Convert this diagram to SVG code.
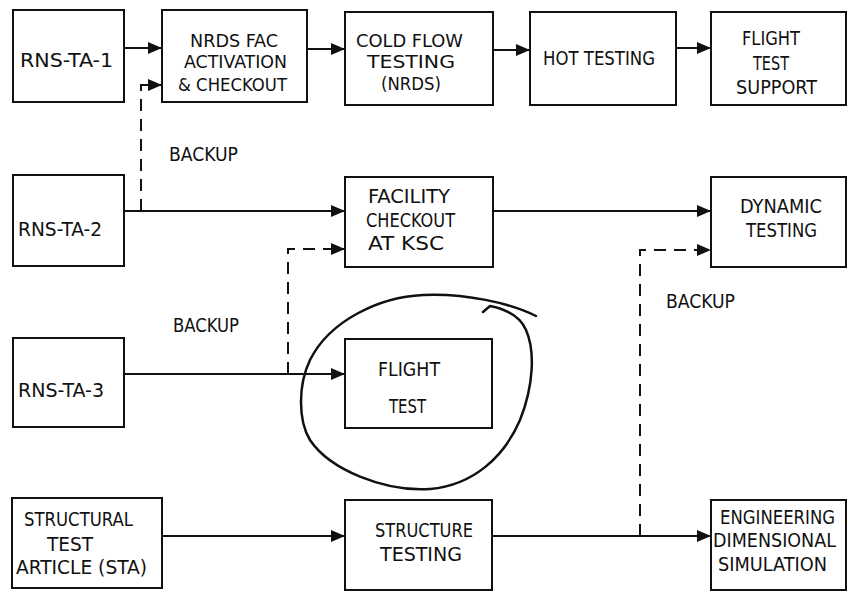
<svg xmlns="http://www.w3.org/2000/svg" width="848" height="592" viewBox="0 0 848 592">
<style>
.box{fill:#fff;stroke:#111;stroke-width:2}
.t{font-family:"DejaVu Sans Condensed","Liberation Sans Narrow","Liberation Sans",sans-serif;font-stretch:condensed;font-size:19px;fill:#111}
.s{font-size:17px}
.ln{fill:none;stroke:#111;stroke-width:2}
.dash{fill:none;stroke:#111;stroke-width:2;stroke-dasharray:12 8}
.circ{fill:none;stroke:#111;stroke-width:2.5;stroke-linecap:round;stroke-linejoin:round}
</style>
<defs>
<marker id="ah" viewBox="0 0 14 12" refX="14" refY="6" markerWidth="14" markerHeight="12" markerUnits="userSpaceOnUse" orient="auto">
<path d="M0,0 L14,6 L0,12 Z" fill="#111"/>
</marker>
</defs>
<rect width="848" height="592" fill="#fff"/>
<g id="connectors">
<line class="ln" x1="124" y1="48" x2="162" y2="48" marker-end="url(#ah)"/>
<line class="ln" x1="307" y1="49" x2="345" y2="49" marker-end="url(#ah)"/>
<line class="ln" x1="493" y1="50" x2="530" y2="50" marker-end="url(#ah)"/>
<line class="ln" x1="676" y1="48" x2="711" y2="48" marker-end="url(#ah)"/>
<line class="ln" x1="124" y1="211" x2="345" y2="211" marker-end="url(#ah)"/>
<line class="ln" x1="493" y1="211" x2="711" y2="211" marker-end="url(#ah)"/>
<line class="ln" x1="124" y1="374" x2="345" y2="374" marker-end="url(#ah)"/>
<line class="ln" x1="162" y1="536" x2="345" y2="536" marker-end="url(#ah)"/>
<line class="ln" x1="492" y1="536" x2="711" y2="536" marker-end="url(#ah)"/>
<path class="dash" d="M141,211 L141,85"/>
<path class="ln" d="M141,86 L141,85 L162,85" marker-end="url(#ah)"/>
<path class="dash" d="M288,374 L288,249 L345,249" marker-end="url(#ah)"/>
<path class="dash" d="M640,536 L640,250 L711,250" marker-end="url(#ah)"/>
</g>
<g id="n1"><rect class="box" x="13" y="10" width="111" height="92"/><text class="t" x="20" y="67" textLength="93" lengthAdjust="spacingAndGlyphs">RNS-TA-1</text></g>
<g id="n2"><rect class="box" x="162" y="10" width="145" height="92"/>
<text class="t s" x="190" y="47" textLength="88" lengthAdjust="spacingAndGlyphs">NRDS FAC</text>
<text class="t s" x="184" y="68" textLength="103" lengthAdjust="spacingAndGlyphs">ACTIVATION</text>
<text class="t s" x="178" y="91" textLength="109" lengthAdjust="spacingAndGlyphs">&amp; CHECKOUT</text></g>
<g id="n3"><rect class="box" x="345" y="12" width="148" height="93"/>
<text class="t s" x="356" y="47" textLength="107" lengthAdjust="spacingAndGlyphs">COLD FLOW</text>
<text class="t s" x="367" y="68" textLength="88" lengthAdjust="spacingAndGlyphs">TESTING</text>
<text class="t s" x="381" y="90" textLength="60" lengthAdjust="spacingAndGlyphs">(NRDS)</text></g>
<g id="n4"><rect class="box" x="530" y="12" width="146" height="93"/>
<text class="t" x="543" y="65" textLength="112" lengthAdjust="spacingAndGlyphs">HOT TESTING</text></g>
<g id="n5"><rect class="box" x="711" y="12" width="135" height="93"/>
<text class="t" x="742" y="45" textLength="58" lengthAdjust="spacingAndGlyphs">FLIGHT</text>
<text class="t" x="753" y="70" textLength="36" lengthAdjust="spacingAndGlyphs">TEST</text>
<text class="t" x="736" y="94" textLength="81" lengthAdjust="spacingAndGlyphs">SUPPORT</text></g>
<g id="n6"><rect class="box" x="13" y="175" width="111" height="91"/>
<text class="t" x="18" y="236" textLength="84" lengthAdjust="spacingAndGlyphs">RNS-TA-2</text></g>
<g id="n7"><rect class="box" x="345" y="177" width="148" height="90"/>
<text class="t" x="368" y="203" textLength="82" lengthAdjust="spacingAndGlyphs">FACILITY</text>
<text class="t" x="366" y="227" textLength="89" lengthAdjust="spacingAndGlyphs">CHECKOUT</text>
<text class="t" x="368" y="250" textLength="76" lengthAdjust="spacingAndGlyphs">AT  KSC</text></g>
<g id="n8"><rect class="box" x="711" y="177" width="135" height="90"/>
<text class="t" x="740" y="213" textLength="82" lengthAdjust="spacingAndGlyphs">DYNAMIC</text>
<text class="t" x="746" y="237" textLength="71" lengthAdjust="spacingAndGlyphs">TESTING</text></g>
<g id="n9"><rect class="box" x="13" y="338" width="111" height="89"/>
<text class="t" x="18" y="397" textLength="86" lengthAdjust="spacingAndGlyphs">RNS-TA-3</text></g>
<g id="n10"><rect class="box" x="345" y="339" width="147" height="89"/>
<text class="t" x="378" y="376" textLength="62" lengthAdjust="spacingAndGlyphs">FLIGHT</text>
<text class="t" x="389" y="413" textLength="37" lengthAdjust="spacingAndGlyphs">TEST</text></g>
<g id="n11"><rect class="box" x="12" y="498" width="150" height="90"/>
<text class="t" x="24" y="526" textLength="109" lengthAdjust="spacingAndGlyphs">STRUCTURAL</text>
<text class="t" x="47" y="551" textLength="46" lengthAdjust="spacingAndGlyphs">TEST</text>
<text class="t" x="16" y="574" textLength="131" lengthAdjust="spacingAndGlyphs">ARTICLE (STA)</text></g>
<g id="n12"><rect class="box" x="345" y="500" width="147" height="90"/>
<text class="t" x="375" y="537" textLength="98" lengthAdjust="spacingAndGlyphs">STRUCTURE</text>
<text class="t" x="380" y="561" textLength="82" lengthAdjust="spacingAndGlyphs">TESTING</text></g>
<g id="n13"><rect class="box" x="711" y="500" width="135" height="90"/>
<text class="t" x="720" y="524" textLength="115" lengthAdjust="spacingAndGlyphs">ENGINEERING</text>
<text class="t" x="713" y="547" textLength="123" lengthAdjust="spacingAndGlyphs">DIMENSIONAL</text>
<text class="t" x="718" y="571" textLength="109" lengthAdjust="spacingAndGlyphs">SIMULATION</text></g>
<g id="labels">
<text class="t" x="169" y="161" textLength="69" lengthAdjust="spacingAndGlyphs">BACKUP</text>
<text class="t" x="173" y="332" textLength="66" lengthAdjust="spacingAndGlyphs">BACKUP</text>
<text class="t" x="666" y="308" textLength="69" lengthAdjust="spacingAndGlyphs">BACKUP</text>
</g>
<g id="circle">
<path class="circ" d="M483,312 L490,306 C505,309 520,316 526,330 C535,350 534,385 520,420 C505,455 475,485 430,489 C385,492 330,470 310,440 C298,420 298,385 310,360 C330,320 380,297 423,295 C465,293 510,303 536,316"/>
</g>
</svg>
